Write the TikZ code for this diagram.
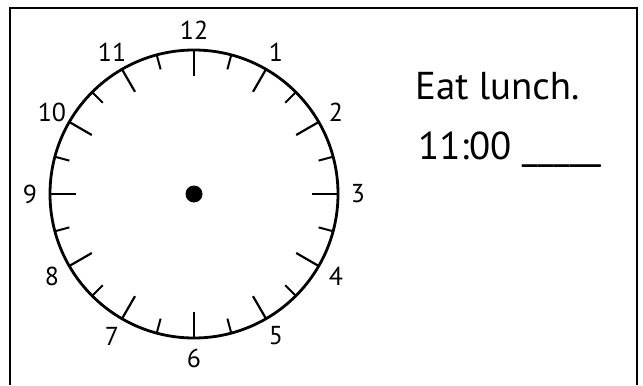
\documentclass[tikz,border=0pt]{standalone}
\usepackage{fontspec}
\setmainfont{PT Sans}
\usepackage{xcolor}
\usepackage{tikz}
\usetikzlibrary{calc}
\definecolor{inkBlack}{RGB}{0, 0, 0}

\begin{document}
\begin{tikzpicture}[
  x=1bp, y=1bp,
  frame/.style={draw=inkBlack, line width=2.6bp},
  dial/.style={draw=inkBlack, line width=2.8bp},
  hourtick/.style={draw=inkBlack, line width=2.2bp},
  halftick/.style={draw=inkBlack, line width=2bp},
  numeral/.style={font=\fontsize{26}{30}\selectfont, inner sep=0pt},
  bigtext/.style={font=\fontsize{39}{44}\selectfont, inner sep=0pt, anchor=base west}
]
  \useasboundingbox (0,0) rectangle (643,385);

  % Frame
  \coordinate (fbl) at (10,0);
  \coordinate (ftl) at (10,377);
  \coordinate (ftr) at (637,377);
  \coordinate (fbr) at (637,0);
  \path[frame] (fbl) -- (ftl) -- (ftr) -- (fbr);

  % Clock face
  \coordinate (c) at (194,191);
  \path[dial] (c) circle[radius=144];
  \fill[inkBlack] (c) circle[radius=8.5];

  % Ticks
  \foreach \h in {0,...,11} {
    \path[hourtick] ($(c)+(90-30*\h:144)$) -- ($(c)+(90-30*\h:118)$);
    \path[halftick] ($(c)+(75-30*\h:144)$) -- ($(c)+(75-30*\h:129)$);
  }

  % Numerals
  \foreach \n in {1,...,12}
    \node[numeral] (num\n) at ($(c)+(90-30*\n:164)$) {\n};

  % Task
  \node[bigtext] (task) at (415,286) {Eat lunch.};
  \node[bigtext] (time) at (418,226) {11:00 \_\_\_\_\_};
\end{tikzpicture}
\end{document}
